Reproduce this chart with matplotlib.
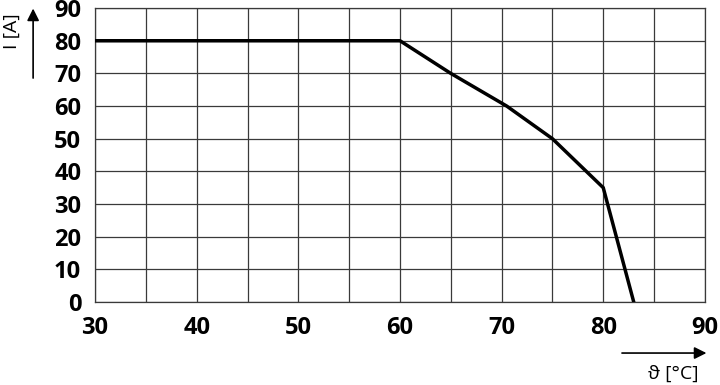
import matplotlib
matplotlib.use("Agg")
import matplotlib.pyplot as plt
import numpy as np

# derating curve: temperature [°C] vs current [A]
temp = [30, 60, 65, 70.5, 75, 80, 83]
corrente = [80, 80, 70, 60, 50, 35, 0]

xticks = [30, 40, 50, 60, 70, 80, 90]
yticks = [0, 10, 20, 30, 40, 50, 60, 70, 80, 90]

plt.rcParams['font.family'] = ['Open Sans', 'DejaVu Sans']

fig = plt.figure(figsize=(7.2, 3.85), dpi=100)
ax = fig.add_axes([0.132, 0.2156, 0.847, 0.7634])

# grade
for gx in np.arange(30, 91, 5):
    ax.axvline(gx, color='#3a3a3a', lw=0.9, zorder=1)
for gy in yticks:
    ax.axhline(gy, color='#3a3a3a', lw=0.9, zorder=1)

ax.plot(temp, corrente, color='black', lw=2.5, zorder=3, solid_joinstyle='miter')

ax.set_xlim(30, 90)
ax.set_ylim(0, 90)
ax.set_xticks(xticks)
ax.set_yticks(yticks)
ax.tick_params(length=0, labelsize=17, pad=10)
for lab in ax.get_xticklabels() + ax.get_yticklabels():
    lab.set_fontweight('bold')
for s in ax.spines.values():
    s.set_color('#3a3a3a')
    s.set_linewidth(0.9)

# rotulos com setas
fig.text(0.017, 0.92, 'I [A]', rotation=90, ha='center', va='center', fontsize=14)
fig.add_artist(matplotlib.patches.FancyArrowPatch((0.046, 0.79), (0.046, 0.985),
               transform=fig.transFigure, arrowstyle='-|>', mutation_scale=18,
               color='black', lw=1.2))
fig.text(0.935, 0.028, 'ϑ [°C]', ha='center', va='center', fontsize=14)
fig.add_artist(matplotlib.patches.FancyArrowPatch((0.86, 0.083), (0.985, 0.083),
               transform=fig.transFigure, arrowstyle='-|>', mutation_scale=18,
               color='black', lw=1.2))

fig.savefig('out.png', dpi=100)
